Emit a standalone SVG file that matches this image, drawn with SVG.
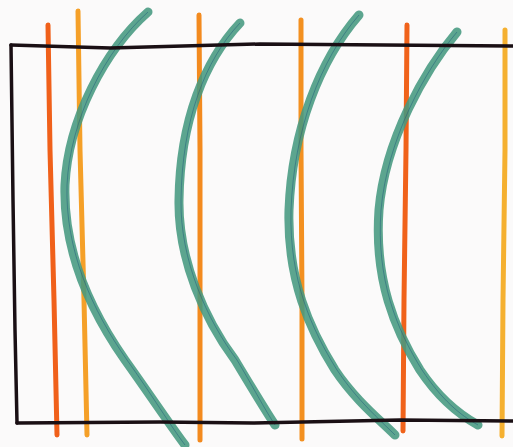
<svg xmlns="http://www.w3.org/2000/svg" width="513" height="447" viewBox="0 0 513 447">
<style>
.or{fill:none;stroke-linecap:round;stroke-width:5}
.gr{fill:none;stroke:#46997f;stroke-width:9;stroke-linecap:round;stroke-opacity:0.88}
.pen{fill:none;stroke:#1f5a78;stroke-width:0.9;stroke-opacity:0.55}
.bk{fill:none;stroke:#1a0f14;stroke-width:3.5;stroke-linecap:round;stroke-linejoin:round}
</style>
<rect width="513" height="447" fill="#fbfafa"/>
<g id="orange-lines">
<path class="or" d="M48,25 L50,150 L54,300 L57,435" stroke="#f0601a"/>
<path class="or" d="M78,11 L80,150 L84,300 L87,435" stroke="#f5a028" stroke-width="4"/>
<path class="or" d="M199,15 L200,150 L200,300 L200,440" stroke="#f38a1e"/>
<path class="or" d="M301,20 L301,150 L302,300 L302,439" stroke="#f39020"/>
<path class="or" d="M407,25 L406,150 L404,300 L403,431" stroke="#f0621a"/>
<path class="or" d="M505,30 L505,150 L503,300 L502,436" stroke="#f5b030"/>
</g>
<g id="green-curves">
<path class="gr" d="M148,12 C105,50 68,120 65,185 C63,250 90,310 125,360 C150,395 170,425 185,445"/>
<path class="gr" d="M240,23 C205,60 180,120 179,200 C178,260 205,320 235,360 C250,385 265,410 275,425"/>
<path class="gr" d="M359,15 C320,60 292,130 289,210 C287,280 310,330 335,370 C355,400 380,420 395,435"/>
<path class="gr" d="M457,32 C425,70 385,140 379,210 C374,280 395,330 420,370 C440,400 460,415 478,425"/>
<path class="pen" d="M148,12 C105,50 70,120 67,185 C65,250 92,310 127,360 C152,395 170,425 185,445"/>
<path class="pen" d="M240,23 C205,60 182,120 181,200 C180,260 207,320 237,360 C252,385 265,410 275,425"/>
<path class="pen" d="M359,15 C320,60 294,130 291,210 C289,280 312,330 337,370 C357,400 380,420 395,435"/>
<path class="pen" d="M457,32 C425,70 387,140 381,210 C376,280 397,330 422,370 C442,400 460,415 478,425"/>
</g>
<g id="frame">
<path class="bk" d="M11,45 L110,48 L260,44 L513,46"/>
<path class="bk" d="M11,45 L13,200 L15,330 L17,423"/>
<path class="bk" d="M17,423 L160,422 L253,423 L400,420 L513,421"/>
</g>
</svg>
